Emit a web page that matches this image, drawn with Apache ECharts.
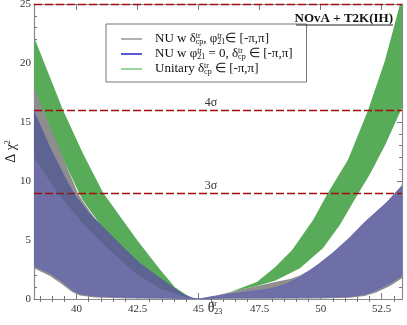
<!DOCTYPE html>
<html><head><meta charset="utf-8">
<script src="https://cdn.jsdelivr.net/npm/echarts@6.0.0/dist/echarts.min.js"></script>
<style>html,body{margin:0;padding:0;background:#fff}#c{width:407px;height:325px}</style>
</head><body><div id="c"></div>
<script>
// Axis ranges and ticks
const xMin = 38.26, xMax = 53.33;
const xMajorTicks = [40, 42.5, 45, 47.5, 50, 52.5];
const xMinorTicks = [38.5, 39, 39.5, 40.5, 41, 41.5, 42, 43, 43.5, 44, 44.5, 45.5, 46, 46.5, 47, 48, 48.5, 49, 49.5, 50.5, 51, 51.5, 52, 53];
const yTicks = [0, 5, 10, 15, 20, 25];
const sigmaLevels = [9, 16, 25];
const sigmaLabels = ['3σ', '4σ', ''];

// Unitary band (green)
const greenUpperX = [38.26, 39.45, 40.25, 41.09, 42.48, 43.42, 44.03, 44.65, 45.02, 45.47, 46.29, 47.39, 48.13, 48.83, 49.69, 50.30, 51.12, 51.94, 52.63, 53.25, 53.33];
const greenUpperY = [22.2, 16.0, 12.4, 9.0, 5.0, 2.5, 1.0, 0.15, 0.0, 0.2, 0.6, 1.45, 2.7, 4.15, 6.7, 9.0, 11.8, 16.0, 20.2, 25.0, 25.0];
const greenLowerX = [38.26, 38.59, 39.2, 40.1, 40.25, 41.0, 41.78, 42.6, 43.4, 44.12, 44.6, 45.0, 45.67, 46.5, 47.39, 48.13, 49.15, 50.09, 50.79, 51.41, 52.02, 52.63, 53.33];
const greenLowerY = [17.5, 16.0, 13.0, 9.0, 8.4, 6.2, 4.0, 2.3, 1.2, 0.4, 0.1, 0.0, 0.3, 0.7, 1.1, 1.55, 2.6, 4.3, 6.3, 8.5, 10.6, 13.0, 16.2];

// NU with delta, phi free (gray)
const grayUpperX = [38.26, 38.59, 39.2, 40.05, 40.25, 41.0, 41.78, 42.6, 43.4, 44.12, 44.6, 45.0, 45.88, 46.82, 47.51, 48.13, 48.74, 49.15, 49.56, 49.89, 50.5, 51.2, 51.81, 52.72, 53.33];
const grayUpperY = [18.0, 16.2, 13.2, 9.0, 8.3, 6.1, 3.9, 2.2, 1.1, 0.35, 0.08, 0.0, 0.35, 0.85, 1.15, 1.45, 1.7, 2.0, 2.45, 2.95, 3.95, 5.25, 6.55, 8.25, 9.65];
const grayLowerX = [38.26, 38.92, 39.41, 39.82, 40.14, 40.76, 42.19, 43.83, 45.0, 48.0, 50.0, 51.2, 51.8, 52.27, 52.84, 53.33];
const grayLowerY = [2.6, 1.95, 1.25, 0.6, 0.3, 0.12, 0.05, 0.02, 0.0, 0.03, 0.05, 0.1, 0.25, 0.55, 1.1, 1.75];

// NU with phi21 = 0 (blue)
const blueUpperX = [38.26, 38.92, 39.5, 39.9, 40.5, 41.37, 42.0, 42.6, 43.2, 43.71, 44.36, 44.8, 45.0, 45.88, 46.82, 47.8, 48.54, 49.15, 49.89, 50.5, 51.2, 51.81, 52.72, 53.33];
const blueUpperY = [15.9, 12.8, 10.4, 8.9, 7.3, 5.5, 4.2, 3.0, 2.1, 1.35, 0.4, 0.05, 0.0, 0.3, 0.55, 0.8, 1.2, 1.85, 2.9, 3.9, 5.2, 6.5, 8.2, 9.6];
const blueLowerX = [38.26, 38.92, 39.41, 39.82, 40.14, 40.76, 42.19, 43.83, 45.0, 46.0, 48.0, 50.0, 51.2, 51.8, 52.27, 52.84, 53.33];
const blueLowerY = [2.8, 2.2, 1.5, 0.8, 0.45, 0.25, 0.15, 0.08, 0.0, 0.12, 0.12, 0.15, 0.22, 0.4, 0.76, 1.35, 2.0];

// overlap region (gray over blue) lower edge, left side
const overlapLowX = [38.26, 39.3, 40.3, 41.37, 42.4, 43.42, 44.44, 45.0];
const overlapLowY = [12.0, 8.8, 6.3, 4.1, 2.2, 0.9, 0.2, 0.0];

const seriesNames = ['NU w δcp, φ21 ∈ [-π,π]', 'NU w φ21 = 0, δcp ∈ [-π,π]', 'Unitary δcp ∈ [-π,π]'];
const legendRich = {};
legendRich[seriesNames[0]] = 'NU w δ{sp|tr}{sb|cp}, φ{sp|tr}{sb|21}∈ [-π,π]';
legendRich[seriesNames[1]] = 'NU w φ{sp|tr}{sb|21} = 0, δ{sp|tr}{sb|cp} ∈ [-π,π]';
legendRich[seriesNames[2]] = 'Unitary δ{sp|tr}{sb|cp} ∈ [-π,π]';

const FONT = 'Liberation Serif';

function band(upX, upY, loX, loY, style, upLimit) {
  return function (params, api) {
    const pts = [];
    for (let i = 0; i < upX.length; i++) {
      if (upLimit != null && upX[i] > upLimit) break;
      pts.push(api.coord([upX[i], upY[i]]));
    }
    for (let i = loX.length - 1; i >= 0; i--) pts.push(api.coord([loX[i], loY[i]]));
    return { type: 'polygon', shape: { points: pts }, style: style };
  };
}

const chart = echarts.init(document.getElementById('c'), null, { renderer: 'canvas' });
const axisLineStyle = { color: '#8a8a8a', width: 1.2 };
const tickStyle = { color: '#777', width: 1 };
const labelStyle = { fontFamily: FONT, fontSize: 11, color: '#333' };

chart.setOption({
  animation: false,
  backgroundColor: '#fff',
  grid: { left: 34, right: 5, top: 4, bottom: 26, containLabel: false, outerBoundsMode: 'none' },
  title: {
    text: 'NOvA + T2K(IH)', right: 14, top: 12, padding: 0,
    textStyle: { fontFamily: FONT, fontWeight: 'bold', fontSize: 13, color: '#111' }
  },
  graphic: [{ type: 'line', shape: { x1: 296, y1: 25, x2: 393, y2: 25 }, style: { stroke: '#222', lineWidth: 1 }, z: 10 }],
  legend: {
    orient: 'vertical', left: 106, top: 24, padding: [8, 14, 6, 15], itemGap: 1,
    itemWidth: 21, itemHeight: 2, icon: 'rect',
    borderColor: '#777', borderWidth: 1, backgroundColor: '#fff',
    data: [
      { name: seriesNames[0], itemStyle: { color: '#b0b0b0' } },
      { name: seriesNames[1], itemStyle: { color: '#5a5ad8' } },
      { name: seriesNames[2], itemStyle: { color: '#9ad79a' } }
    ],
    formatter: function (n) { return legendRich[n]; },
    textStyle: {
      fontFamily: FONT, fontSize: 13, color: '#111', lineHeight: 14, padding: [0, 0, 0, 8],
      rich: {
        sp: { fontFamily: FONT, fontSize: 8, lineHeight: 8, verticalAlign: 'top', width: 0, color: '#111' },
        sb: { fontFamily: FONT, fontSize: 8, lineHeight: 8, verticalAlign: 'bottom', color: '#111' }
      }
    }
  },
  xAxis: [
    { type: 'value', min: xMin, max: xMax, position: 'bottom',
      axisLine: { show: true, onZero: false, lineStyle: axisLineStyle },
      axisTick: { inside: true, length: 6, customValues: xMajorTicks, lineStyle: tickStyle },
      axisLabel: Object.assign({ customValues: xMajorTicks, margin: 5, formatter: v => String(v) }, labelStyle),
      splitLine: { show: false },
      name: '{m|θ}{sp|tr}{sb|23}', nameLocation: 'middle', nameGap: 1, nameMoveOverlap: false,
      nameTextStyle: { padding: [0, 6, 0, 0], rich: {
        m: { fontFamily: FONT, fontSize: 14, color: '#222', lineHeight: 16 },
        sp: { fontFamily: FONT, fontSize: 8, lineHeight: 8, verticalAlign: 'top', width: 0, color: '#222' },
        sb: { fontFamily: FONT, fontSize: 8, lineHeight: 8, verticalAlign: 'bottom', color: '#222' } } } },
    { type: 'value', min: xMin, max: xMax, position: 'bottom',
      axisLine: { show: false }, axisLabel: { show: false }, splitLine: { show: false },
      axisTick: { inside: true, length: 3, customValues: xMinorTicks, lineStyle: tickStyle } },
    { type: 'value', min: xMin, max: xMax, position: 'top',
      axisLine: { show: true, onZero: false, lineStyle: axisLineStyle }, axisLabel: { show: false }, splitLine: { show: false },
      axisTick: { inside: true, length: 6, customValues: xMajorTicks, lineStyle: tickStyle } },
    { type: 'value', min: xMin, max: xMax, position: 'top',
      axisLine: { show: false }, axisLabel: { show: false }, splitLine: { show: false },
      axisTick: { inside: true, length: 3, customValues: xMinorTicks, lineStyle: tickStyle } }
  ],
  yAxis: [
    { type: 'value', min: 0, max: 25, interval: 5, position: 'left',
      axisLine: { show: true, onZero: false, lineStyle: axisLineStyle },
      axisTick: { inside: true, length: 5, lineStyle: tickStyle },
      minorTick: { show: true, splitNumber: 5, length: 3, lineStyle: tickStyle },
      axisLabel: Object.assign({ margin: 3 }, labelStyle),
      splitLine: { show: false },
      name: 'Δ χ{sp|2}', nameLocation: 'middle', nameGap: 16, nameMoveOverlap: false,
      nameTextStyle: { fontFamily: FONT, fontSize: 14, color: '#222', rich: {
        sp: { fontFamily: FONT, fontSize: 8, lineHeight: 8, verticalAlign: 'top', color: '#222' } } } },
    { type: 'value', min: 0, max: 25, interval: 5, position: 'right',
      axisLine: { show: true, onZero: false, lineStyle: axisLineStyle },
      axisTick: { inside: true, length: 5, lineStyle: tickStyle },
      minorTick: { show: true, splitNumber: 5, length: 3, lineStyle: tickStyle },
      axisLabel: { show: false }, splitLine: { show: false } }
  ],
  series: [
    { type: 'custom', name: seriesNames[2], clip: true, data: [[45, 0]], z: 2,
      itemStyle: { color: '#9ad79a' },
      renderItem: band(greenUpperX, greenUpperY, greenLowerX, greenLowerY, { fill: '#58ab58' }) },
    { type: 'custom', name: seriesNames[0], clip: true, data: [[45, 0]], z: 3,
      itemStyle: { color: '#b0b0b0' },
      renderItem: band(grayUpperX, grayUpperY, grayLowerX, grayLowerY, { fill: '#8e8e8e' }) },
    { type: 'custom', name: seriesNames[1], clip: true, data: [[45, 0]], z: 4,
      itemStyle: { color: '#5a5ad8' },
      renderItem: band(blueUpperX, blueUpperY, blueLowerX, blueLowerY, { fill: '#6f6fa7', stroke: '#5b5bc0', lineWidth: 0.6 }) },
    { type: 'custom', name: seriesNames[0], clip: true, data: [[45, 0]], z: 5,
      itemStyle: { color: '#b0b0b0' },
      renderItem: band(blueUpperX, blueUpperY, overlapLowX, overlapLowY, { fill: 'rgba(55,75,95,0.30)' }, 45.0) },
    { type: 'line', name: 'sigma', data: [], z: 6, xAxisIndex: 0, yAxisIndex: 0,
      markLine: {
        silent: true, symbol: 'none',
        lineStyle: { color: '#a00d0d', type: [8, 3], width: 1.4 },
        label: { show: true, position: 'insideMiddleTop', distance: 1, padding: [0, 14, 0, 0],
          fontFamily: FONT, fontSize: 12, color: '#333',
          formatter: function (p) { return sigmaLabels[sigmaLevels.indexOf(p.value)]; } },
        data: sigmaLevels.map(v => ({ yAxis: v }))
      } }
  ]
});
</script></body></html>
